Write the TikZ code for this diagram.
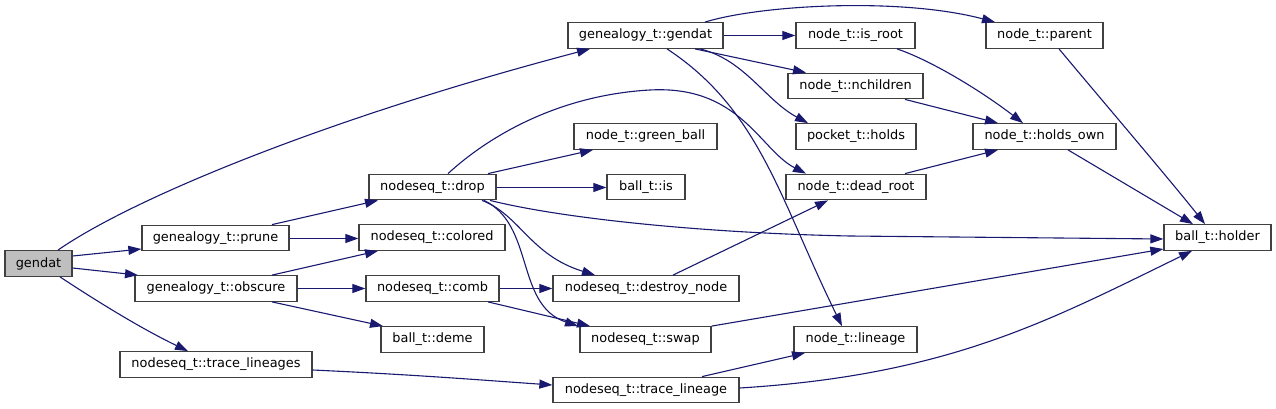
\documentclass[tikz,border=0pt]{standalone}
\usepackage{fontspec}
\setmainfont{DejaVu Sans}
\usetikzlibrary{arrows.meta}
\definecolor{edgecol}{HTML}{191970}
\definecolor{boxcol}{HTML}{404040}
\definecolor{rootfill}{HTML}{BFBFBF}
\tikzset{
  box/.style={draw=boxcol, line width=1.3pt, fill=white, inner sep=0pt, minimum height=25.5pt,
    font=\fontsize{12.9}{15}\selectfont, text=black},
  rootbox/.style={box, fill=rootfill},
  call/.style={draw=edgecol, line width=1.1pt, -{Triangle[length=13pt,width=9pt]}, edgecol}
}
\begin{document}
\begin{tikzpicture}[x=1pt,y=-1pt]
\useasboundingbox (0,0) rectangle (1276,409);
\fill[white] (0,0) rectangle (1276,409);
% nodes
\node[rootbox, minimum width=67pt] (gendat) at (38.5,263.5) {gendat};
\node[box, minimum width=147pt] (prune) at (215.5,238) {genealogy\_t::prune};
\node[box, minimum width=162pt] (obscure) at (216,288.5) {genealogy\_t::obscure};
\node[box, minimum width=192pt] (tlins) at (216,364.5) {nodeseq\_t::trace\_lineages};
\node[box, minimum width=127pt] (drop) at (432.5,187) {nodeseq\_t::drop};
\node[box, minimum width=146pt] (colored) at (432,237.5) {nodeseq\_t::colored};
\node[box, minimum width=133pt] (comb) at (432.5,288.5) {nodeseq\_t::comb};
\node[box, minimum width=103pt] (deme) at (432.5,339.5) {ball\_t::deme};
\node[box, minimum width=155pt] (gg) at (645.5,35.5) {genealogy\_t::gendat};
\node[box, minimum width=143pt] (gball) at (645.5,136.5) {node\_t::green\_ball};
\node[box, minimum width=78pt] (is) at (646,187) {ball\_t::is};
\node[box, minimum width=186pt] (dnode) at (646,288.5) {nodeseq\_t::destroy\_node};
\node[box, minimum width=131pt] (swap) at (645.5,339.5) {nodeseq\_t::swap};
\node[box, minimum width=186pt] (tline) at (646,390) {nodeseq\_t::trace\_lineage};
\node[box, minimum width=119pt] (isroot) at (855.5,35.5) {node\_t::is\_root};
\node[box, minimum width=135pt] (nch) at (855.5,86) {node\_t::nchildren};
\node[box, minimum width=120pt] (pholds) at (856,136.5) {pocket\_t::holds};
\node[box, minimum width=140pt] (droot) at (856,187) {node\_t::dead\_root};
\node[box, minimum width=123pt] (lineage) at (855.5,339.5) {node\_t::lineage};
\node[box, minimum width=117pt] (parent) at (1044.5,35.5) {node\_t::parent};
\node[box, minimum width=143pt] (hown) at (1044.5,136.5) {node\_t::holds\_own};
\node[box, minimum width=107pt] (holder) at (1217.5,237.5) {ball\_t::holder};
% edges
\draw[call] (58,0 |- gendat.north) .. controls (130,200) and (320,120) .. (590,0 |- gg.south);
\draw[call] (gendat.east |- 0,256) -- (prune.west |- 0,249);
\draw[call] (gendat.east |- 0,268) -- (138,0 |- obscure.north);
\draw[call] (60,0 |- gendat.south) .. controls (95,300) and (140,328) .. (188,0 |- tlins.north);
\draw[call] (272,0 |- prune.north) -- (378,0 |- drop.south);
\draw[call] (prune.east |- 0,238.5) -- (colored.west |- 0,238.5);
\draw[call] (272,0 |- obscure.north) -- (378,0 |- colored.south);
\draw[call] (obscure.east) -- (obscure.east -| comb.west);
\draw[call] (272,0 |- obscure.south) -- (383,0 |- deme.north);
\draw[call] (tlins.east |- 0,370) .. controls (420,375) and (480,380) .. (tline.west |- 0,385);
\draw[call] (488,0 |- drop.north) -- (593,0 |- gball.south);
\draw[call] (drop.east |- 0,187.5) -- (is.west |- 0,187.5);
\draw[call] (448,0 |- drop.north) .. controls (490,135) and (560,95) .. (650,90) .. controls (740,85) and (760,150) .. (806,0 |- droot.north);
\draw[call] (490,0 |- drop.south) .. controls (560,218) and (700,233) .. (850,236) -- (holder.west |- 0,239);
\draw[call] (482,0 |- drop.south) .. controls (520,215) and (530,255) .. (595,0 |- dnode.north);
\draw[call] (484,0 |- drop.south) .. controls (535,225) and (515,305) .. (578,0 |- swap.north);
\draw[call] (comb.east) -- (comb.east -| dnode.west);
\draw[call] (488,0 |- comb.south) -- (590,0 |- swap.north);
\draw[call] (673,0 |- dnode.north) -- (828,0 |- droot.south);
\draw[call] (swap.north east) -- (holder.west |- 0,249);
\draw[call] (702,0 |- tline.north) -- (805,0 |- lineage.south);
\draw[call] (tline.east |- 0,388) .. controls (950,375) and (1050,320) .. (1192,0 |- holder.south);
\draw[call] (gg.east) -- (gg.east -| isroot.west);
\draw[call] (695,0 |- gg.south) -- (806,0 |- nch.north);
\draw[call] (700,0 |- gg.south) .. controls (745,60) and (765,100) .. (808,0 |- pholds.north);
\draw[call] (667,0 |- gg.south) .. controls (760,110) and (780,200) .. (842,0 |- lineage.north);
\draw[call] (705,0 |- gg.north) .. controls (760,5) and (900,-3) .. (995,0 |- parent.north);
\draw[call] (897,0 |- isroot.south) .. controls (930,60) and (980,90) .. (1023,0 |- hown.north);
\draw[call] (905,0 |- nch.south) -- (998,0 |- hown.north);
\draw[call] (905,0 |- droot.north) -- (998,0 |- hown.south);
\draw[call] (1068,0 |- hown.south) -- (1193,0 |- holder.north);
\draw[call] (1059,0 |- parent.south) .. controls (1100,98) and (1170,180) .. (1205,0 |- holder.north);
\end{tikzpicture}
\end{document}
